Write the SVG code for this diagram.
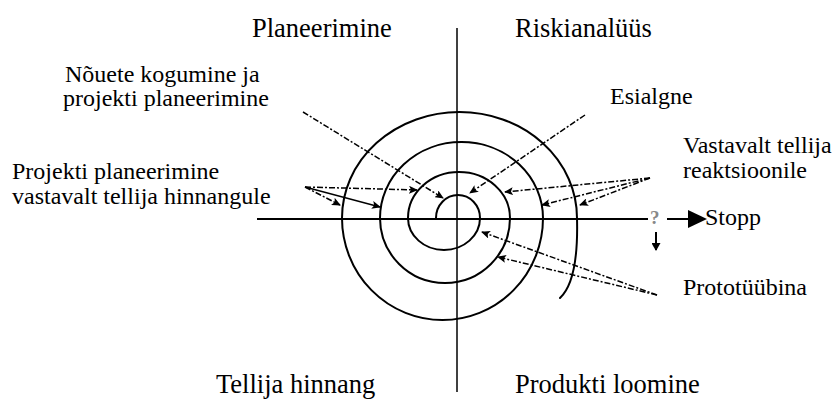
<svg xmlns="http://www.w3.org/2000/svg" width="838" height="399" viewBox="0 0 838 399">
<style>
.t{font-family:'Liberation Serif','DejaVu Serif','Times New Roman',serif;fill:#000}
.q{font-size:26.5px}
.l{font-size:24px}
.axis{stroke:#000;fill:none}
.spiral{stroke:#000;stroke-width:2;fill:none;stroke-linecap:round}
.dash{stroke:#000;stroke-width:1.5;fill:none;stroke-dasharray:6 2 2 2;marker-end:url(#ah)}
.solid{stroke:#000;stroke-width:1.5;fill:none;marker-end:url(#ah)}
</style>
<defs>
<marker id="ah" markerWidth="9" markerHeight="8" refX="8" refY="4" orient="auto" markerUnits="userSpaceOnUse">
<path d="M0,0 L9,4 L0,8 L2,4 z" fill="#000"/>
</marker>
<marker id="ahd" markerWidth="8" markerHeight="9" refX="7" refY="4.5" orient="auto" markerUnits="userSpaceOnUse">
<path d="M0,0 L8,4.5 L0,9 z" fill="#000"/>
</marker>
</defs>
<rect width="838" height="399" fill="#fff"/>

<g id="axes">
<line class="axis" x1="457" y1="28" x2="457" y2="392" stroke-width="1.5"/>
<line class="axis" x1="257" y1="219" x2="648" y2="219" stroke-width="2"/>
</g>

<g id="spiral">
<path class="spiral" d="M436,218 A22,23 0 0 1 480,218 A36,32 0 0 1 408,218 A51,46 0 0 1 510,218 A65,65 0 0 1 380,218 A81.5,76 0 0 1 543,218 A100.5,102 0 0 1 342,218 A117.5,106 0 0 1 577,218 C578,255 574,285 560,298"/>
</g>

<g id="connectors">
<path class="dash" d="M303,112 L443,198"/>
<path class="dash" d="M305,187 L417,190"/>
<path class="dash" d="M305,187 L340,205"/>
<path class="solid" d="M305,187 L380,207"/>
<path class="dash" d="M585,115 L470,193"/>
<path class="dash" d="M650,178 L505,192"/>
<path class="dash" d="M650,178 L542,205"/>
<path class="dash" d="M650,178 L580,205"/>
<path class="dash" d="M657,295 L482,232"/>
<path class="dash" d="M657,295 L498,257"/>
<line x1="667" y1="219" x2="688" y2="219" stroke="#000" stroke-width="2"/>
<path d="M688,210 L707,219 L688,228 z" fill="#000"/>
<line x1="656" y1="232" x2="656" y2="250" stroke="#000" stroke-width="2" marker-end="url(#ahd)"/>
</g>

<g font-family="Liberation Serif, DejaVu Serif, serif">
<g id="planeerimine"><text class="t q" x="252" y="37">Planeerimine</text></g>
<g id="riskianalyys"><text class="t q" x="515" y="37">Riskianalüüs</text></g>
<g id="tellija-hinnang"><text class="t q" x="216" y="393">Tellija hinnang</text></g>
<g id="produkti-loomine"><text class="t q" x="515" y="393">Produkti loomine</text></g>
<g id="nouete"><text class="t l" x="65" y="82">Nõuete kogumine ja</text><text class="t l" x="63" y="106">projekti planeerimine</text></g>
<g id="projekti"><text class="t l" x="12" y="179">Projekti planeerimine</text><text class="t l" x="12" y="204">vastavalt tellija hinnangule</text></g>
<g id="esialgne"><text class="t l" x="610" y="104">Esialgne</text></g>
<g id="vastavalt"><text class="t l" x="683" y="153">Vastavalt tellija</text><text class="t l" x="683" y="178">reaktsioonile</text></g>
<g id="question"><text class="t" x="650" y="224" font-size="19" font-weight="bold" fill="#888" style="fill:#888">?</text></g>
<g id="stopp"><text class="t l" x="705" y="225">Stopp</text></g>
<g id="prototyybina"><text class="t l" x="683" y="295">Prototüübina</text></g>
</g>
</svg>
